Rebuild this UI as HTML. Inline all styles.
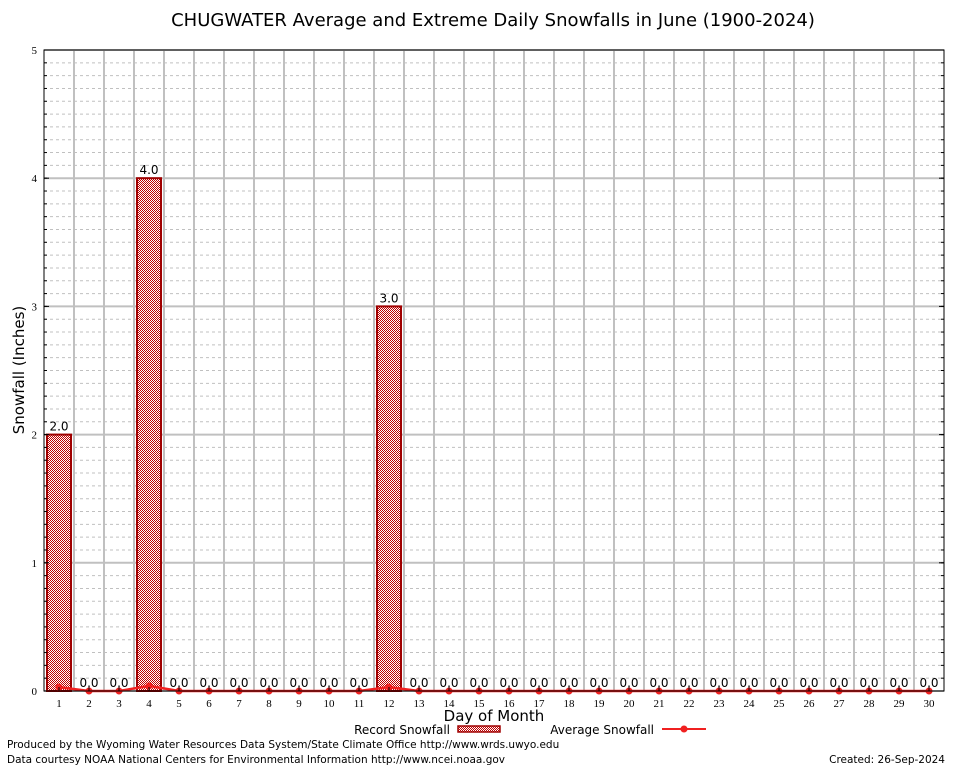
<!DOCTYPE html>
<html><head><meta charset="utf-8"><style>
body{margin:0;background:#fff;}
svg text{font-family:"DejaVu Sans","Liberation Sans",sans-serif;}
</style></head><body>
<svg width="954" height="768" viewBox="0 0 954 768">
<defs>
<pattern id="hatch" x="0" y="0" width="2" height="2" patternUnits="userSpaceOnUse">
<rect width="2" height="2" fill="#ffffff"/>
<rect x="0" y="0" width="1" height="1" fill="#c00000"/><rect x="1" y="1" width="1" height="1" fill="#c00000"/>
</pattern>
</defs>
<text x="493" y="26" font-size="18" text-anchor="middle">CHUGWATER Average and Extreme Daily Snowfalls in June (1900-2024)</text>
<g id="grid"></g>
<g id="bars"></g>
<g id="avg"></g>
<g id="axes"></g>
<text transform="translate(24,370) rotate(-90)" font-size="15" text-anchor="middle">Snowfall (Inches)</text>
<text x="494" y="721" font-size="15" text-anchor="middle">Day of Month</text>
<g>
<text x="450" y="734" font-size="12" text-anchor="end">Record Snowfall</text>
<rect x="458" y="726" width="42" height="6" fill="url(#hatch)" stroke="#a00000" stroke-width="1.5"/>
</g>
<g>
<text x="654" y="734" font-size="12" text-anchor="end">Average Snowfall</text>
<line x1="662" y1="729" x2="706" y2="729" stroke="#f02020" stroke-width="2"/>
<circle cx="684" cy="729" r="3.5" fill="#f02020"/>
</g>
<text x="7" y="748" font-size="10.5">Produced by the Wyoming Water Resources Data System/State Climate Office http://www.wrds.uwyo.edu</text>
<text x="7" y="763" font-size="10.5">Data courtesy NOAA National Centers for Environmental Information http://www.ncei.noaa.gov</text>
<text x="945" y="763" font-size="10.5" text-anchor="end">Created: 26-Sep-2024</text>
</svg>
<script>
const days=[1,2,3,4,5,6,7,8,9,10,11,12,13,14,15,16,17,18,19,20,21,22,23,24,25,26,27,28,29,30];
const recordSnow=[2,0,0,4,0,0,0,0,0,0,0,3,0,0,0,0,0,0,0,0,0,0,0,0,0,0,0,0,0,0];
const avgSnow=[0.03,0,0,0.04,0,0,0,0,0,0,0,0.03,0,0,0,0,0,0,0,0,0,0,0,0,0,0,0,0,0,0];
const yTicks=[0,1,2,3,4,5];
const NS="http://www.w3.org/2000/svg";
const L=44,R=944,T=50,B=691,YMAX=5;
const xC=d=>L+(d-0.5)*(R-L)/days.length;
const y=v=>B-v*(B-T)/YMAX;
function mk(tag,attrs,parent,txt){const e=document.createElementNS(NS,tag);for(const k in attrs)e.setAttribute(k,attrs[k]);if(txt!==undefined)e.textContent=txt;parent.appendChild(e);return e;}
const grid=document.getElementById('grid'),bars=document.getElementById('bars'),avg=document.getElementById('avg'),axes=document.getElementById('axes');
for(let i=1;i<YMAX*10;i++){if(i%10===0)continue;const yy=y(i/10);mk('line',{x1:L,x2:R,y1:yy,y2:yy,stroke:'#c0c0c0','stroke-dasharray':'3,3','stroke-width':1},grid);}
yTicks.forEach(t=>{const yy=y(t);const l=mk('line',{x1:L,x2:R,y1:yy,y2:yy,stroke:'#c0c0c0','stroke-width':2},grid);

const tx=mk('text',{x:L-7,y:yy+4,'font-size':11,'text-anchor':'end',style:'font-family:"Liberation Serif",serif'},axes,String(t));

mk('line',{x1:L,x2:L+5,y1:yy,y2:yy,stroke:'#000'},axes);mk('line',{x1:R,x2:R-5,y1:yy,y2:yy,stroke:'#000'},axes);});
for(let i=1;i<YMAX*10;i++){const yy=y(i/10);mk('line',{x1:L,x2:L+3,y1:yy,y2:yy,stroke:'#000'},axes);mk('line',{x1:R,x2:R-3,y1:yy,y2:yy,stroke:'#000'},axes);}
const slot=(R-L)/days.length;
for(let i=1;i<days.length;i++){const xx=L+i*slot;mk('line',{x1:xx,x2:xx,y1:T,y2:B,stroke:'#c0c0c0','stroke-width':2},grid);}
days.forEach((d,i)=>{
const v=recordSnow[i];const cx=xC(d);
if(v>0){const r=mk('rect',{x:cx-12,y:y(v),width:24,height:B-y(v),fill:'url(#hatch)',stroke:'#a00000','stroke-width':2},bars);

}
const lb=mk('text',{x:cx,y:y(v)-4,'font-size':12,'text-anchor':'middle'},bars,v.toFixed(1));

const tk=mk('text',{x:cx,y:B+16,'font-size':11,'text-anchor':'middle',style:'font-family:"Liberation Serif",serif'},axes,String(d));

mk('line',{x1:cx,x2:cx,y1:B,y2:B-4,stroke:'#000'},axes);
});
mk('polyline',{points:days.map((d,i)=>xC(d)+','+y(avgSnow[i])).join(' '),fill:'none',stroke:'#f02020','stroke-width':2.5},avg);
days.forEach((d,i)=>{const c=mk('circle',{cx:xC(d),cy:y(avgSnow[i]),r:3.5,fill:'#f02020'},avg);
});
const fr=mk('rect',{x:L,y:T,width:R-L,height:B-T,fill:'none',stroke:'#000','stroke-width':1},axes);

</script>
</body></html>
